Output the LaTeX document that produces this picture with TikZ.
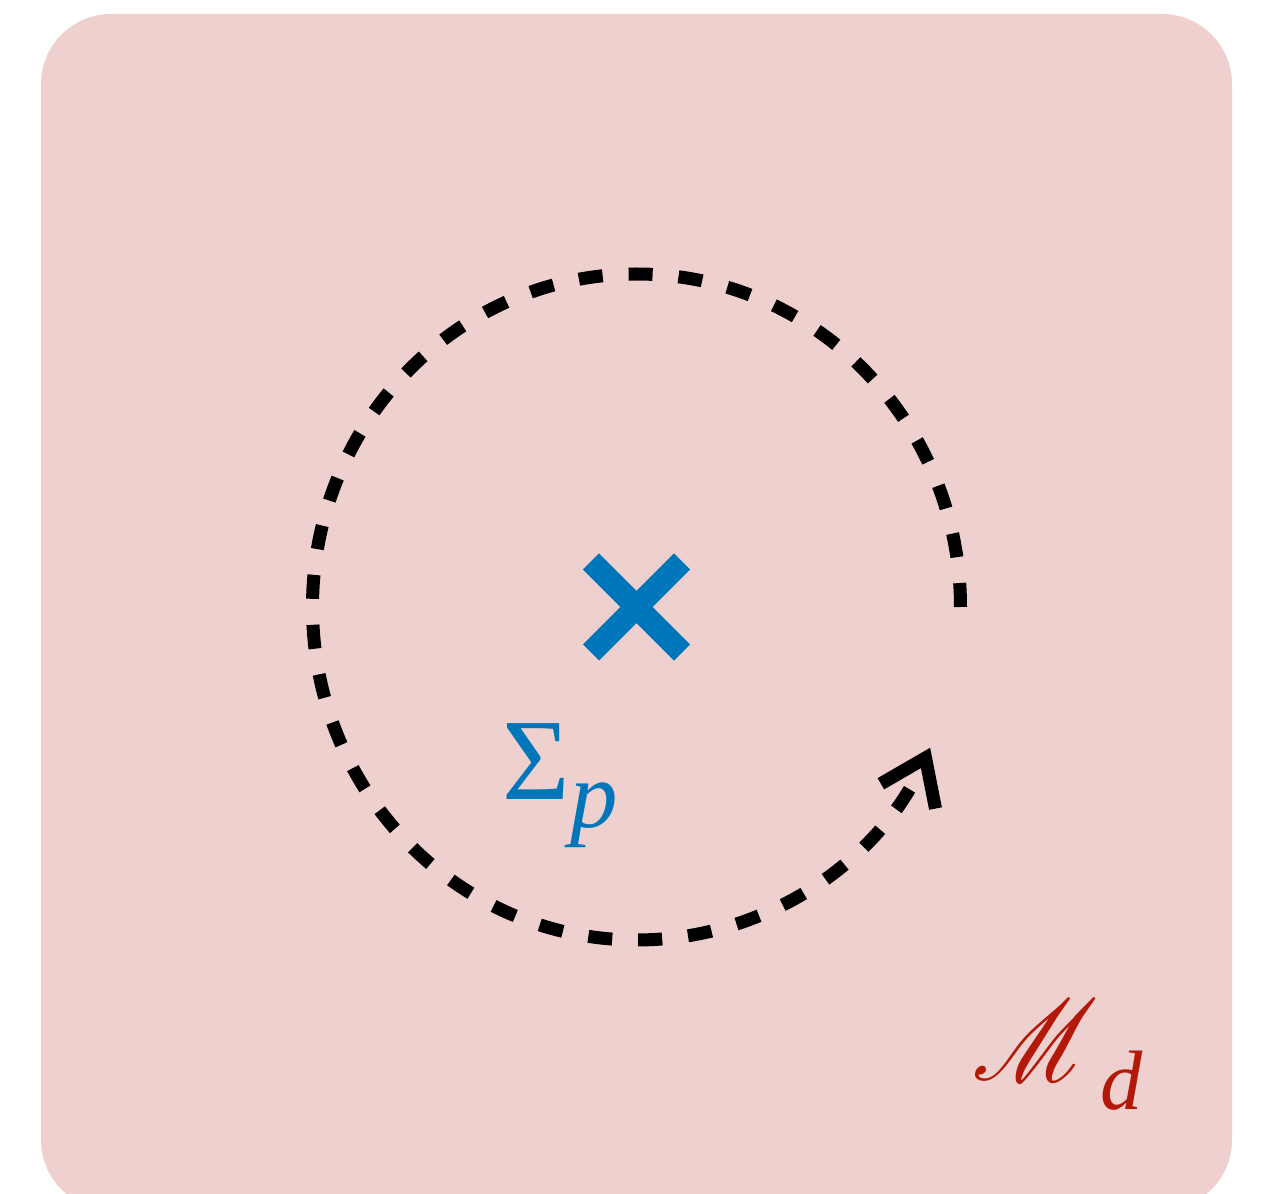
\documentclass[tikz,border=0pt]{standalone}
\usepackage{fontspec}
\usepackage{amsmath}
\usepackage{amssymb}
\usepackage{mathrsfs}
\usepackage{tikz}
\usetikzlibrary{shapes.misc, arrows.meta, positioning}
\setmainfont{Liberation Serif}

\definecolor{patchpink}{RGB}{238,209,206}
\definecolor{defectblue}{RGB}{0,118,186}
\definecolor{manifoldred}{RGB}{180,24,8}

\begin{document}
\begin{tikzpicture}
  \useasboundingbox (0,0) rectangle (12.66,11.94);
  \node[fill=patchpink, rounded corners=0.7cm, inner sep=0pt,
        minimum width=11.91cm, minimum height=11.96cm]
       (patch) at (6.365,5.82) {};
  \node[cross out, draw=defectblue, line width=6.5pt,
        minimum size=0.91cm, inner sep=0pt, outer sep=0pt]
       (defect) at (6.365,5.87) {};
  % loop around the defect
  \draw[line width=3.7pt, dash pattern=on 0.24cm off 0.26cm,
        -{Straight Barb[length=0.42cm, width=0.6cm]}]
       ([xshift=3.24cm]defect.center)
       arc[start angle=0, end angle=335, x radius=3.24cm, y radius=3.33cm];
  \node[text=defectblue, inner sep=0pt, anchor=base west,
        font=\fontsize{33}{38}\selectfont]
       (sigmalabel) at (5.02,3.94)
       {Σ\raisebox{-0.28cm}{\fontsize{27}{32}\selectfont\itshape p}};
  \node[text=manifoldred, inner sep=0pt, anchor=base west,
        font=\fontsize{24}{28}\selectfont]
       (manifold) at (9.72,1.14)
       {\scalebox{1.16}[1.32]{$\mathscr{M}$}\hspace{0.02cm}\raisebox{-0.3cm}{\itshape d}};
\end{tikzpicture}
\end{document}
